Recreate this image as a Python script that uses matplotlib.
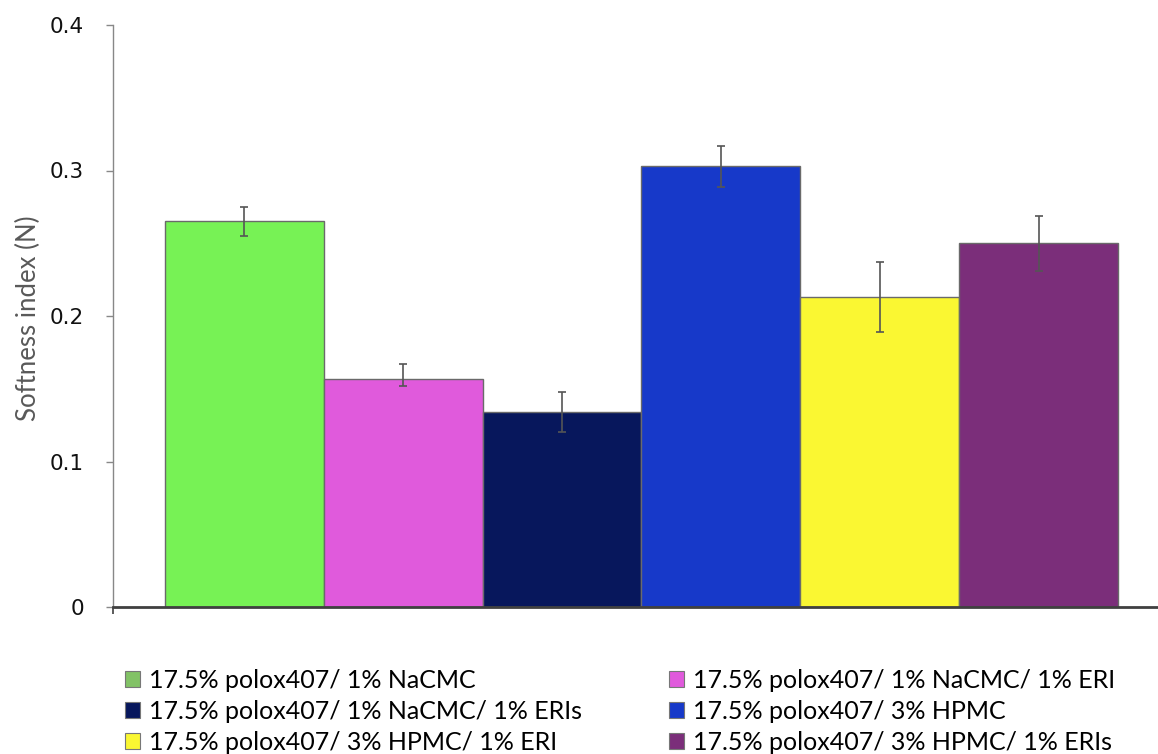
import matplotlib
matplotlib.use("Agg")
import matplotlib.pyplot as plt
from matplotlib.patches import Patch

labels = [
    "17.5% polox407/ 1% NaCMC",
    "17.5% polox407/ 1% NaCMC/ 1% ERI",
    "17.5% polox407/ 1% NaCMC/ 1% ERIs",
    "17.5% polox407/ 3% HPMC",
    "17.5% polox407/ 3% HPMC/ 1% ERI",
    "17.5% polox407/ 3% HPMC/ 1% ERIs",
]
values = [0.265, 0.157, 0.134, 0.303, 0.213, 0.250]
err_low = [0.010, 0.005, 0.014, 0.014, 0.024, 0.019]
err_high = [0.010, 0.010, 0.014, 0.014, 0.024, 0.019]
bar_colors = ["#77F255", "#E05ADC", "#07175C", "#1739C9", "#FAF732", "#7B2E7A"]
legend_colors = ["#82C266", "#E05ADC", "#07175C", "#1739C9", "#FAF732", "#7B2E7A"]
yticks = [0, 0.1, 0.2, 0.3, 0.4]
ytick_labels = ["0", "0.1", "0.2", "0.3", "0.4"]

W, H = 1158, 754
fig = plt.figure(figsize=(W / 100, H / 100), dpi=100)
ax = fig.add_axes([113 / W, 1 - 607 / H, (W - 113) / W, (607 - 25) / H])

x = list(range(len(values)))
ax.bar(x, values, width=1.0, color=bar_colors, edgecolor="#6a6a6a", linewidth=1.0, zorder=2)
ax.errorbar(x, values, yerr=[err_low, err_high], fmt="none", ecolor="#555555",
            elinewidth=1.2, capsize=3, capthick=1.2, zorder=3)

xmin = -0.5 - 52 / 159
ax.set_xlim(xmin, 5.5 + 40 / 159)
ax.set_ylim(0, 0.4)
ax.set_yticks(yticks)
ax.set_yticklabels(ytick_labels, fontsize=15.5, family="DejaVu Sans", color="#111111")
ax.set_xticks([xmin])
ax.set_xticklabels([""])
ax.tick_params(axis="y", direction="out", length=5, width=1, color="#888888", pad=16)
ax.tick_params(axis="x", direction="out", length=5, width=1.2, color="#404040")

for s in ["top", "right"]:
    ax.spines[s].set_visible(False)
ax.spines["left"].set_color("#888888")
ax.spines["left"].set_linewidth(1.0)
ax.spines["bottom"].set_color("#404040")
ax.spines["bottom"].set_linewidth(2.0)

fig.text(28 / W, 1 - 318 / H, "Softness index (N)", rotation=90, ha="center", va="center",
         fontsize=18.5, family="Lato", color="#595959")

handles = [Patch(facecolor=c, edgecolor="#777777", linewidth=0.8) for c in legend_colors]
order = [0, 2, 4, 1, 3, 5]  # row-major layout in a 2-column legend
leg = fig.legend([handles[i] for i in order], [labels[i] for i in order], ncol=2,
                 loc="upper left", bbox_to_anchor=(125 / W, 1 - 669 / H), frameon=False,
                 prop={"family": "Lato", "size": 18},
                 handlelength=0.6, handleheight=0.6, handletextpad=0.36,
                 labelspacing=0.31, columnspacing=3.49, borderpad=0, borderaxespad=0)

fig.savefig("out.png", dpi=100)
